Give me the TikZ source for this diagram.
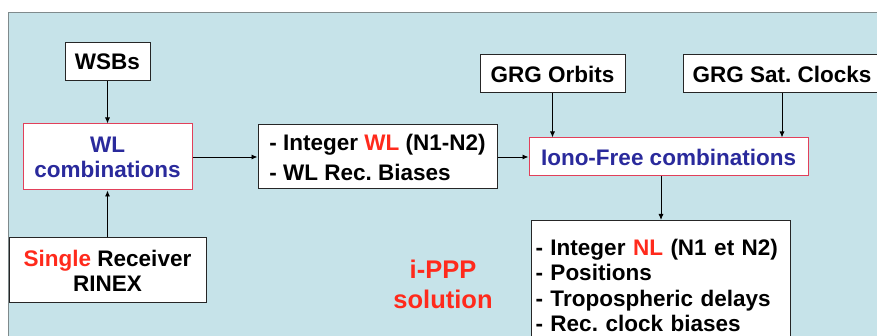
\documentclass[tikz,border=0pt]{standalone}
\usepackage{fontspec}
\setmainfont{Liberation Sans}
\usepackage{tikz}
\usepackage{xcolor}
\usetikzlibrary{arrows.meta,positioning}
\definecolor{Panel}{HTML}{C6E3E9}
\definecolor{Frame}{HTML}{7F8A8C}
\definecolor{Navy}{HTML}{2A2A9C}
\definecolor{Red}{HTML}{FF2A1C}
\definecolor{Rose}{HTML}{E2405A}
\frenchspacing

\begin{document}
\begin{tikzpicture}[x=1pt,y=1pt,
  box/.style={draw=black!85,line width=1pt,fill=white,inner sep=0pt,align=center,
    font=\fontsize{22.5}{25}\selectfont\bfseries},
  combo/.style={box,draw=Rose,text=Navy},
  arr/.style={-{Latex[length=6pt,width=5pt]},line width=0.9pt}]
  \useasboundingbox (0,0) rectangle (877,336);
  \fill[white] (0,0) rectangle (877,336);
  \fill[Panel] (8,-10) rectangle (890,323);
  \draw[Frame,line width=1pt] (8,-10) -- (8,323) -- (890,323);

  % left column
  \node[box,minimum width=85,minimum height=38] (wsb) at (107.5,274) {WSBs};
  \node[combo,minimum width=169,minimum height=66] (wl) at (107.5,179) {WL\\combinations};
  \node[box,minimum width=197,minimum height=65] (rinex) at (107.5,65.5)
    {\textcolor{Red}{Single} Receiver\\RINEX};

  % middle
  \node[box,minimum width=239,minimum height=64,align=left,
    font=\fontsize{22.5}{30}\selectfont\bfseries] (intwl) at (377.5,179)
    {- Integer \textcolor{Red}{WL} (N1-N2)\\- WL Rec. Biases};

  % right column
  \node[box,minimum width=145,minimum height=38] (orbits) at (552.5,262) {GRG Orbits};
  \node[box,minimum width=198,minimum height=38] (clocks) at (782,262) {GRG Sat. Clocks};
  \node[combo,minimum width=279,minimum height=38] (iono) at (668.5,179) {Iono-Free combinations};
  \node[box,anchor=north west,text width=251,inner xsep=4pt,inner ysep=10pt,align=left,
    minimum height=130,font=\fontsize{22.5}{25.5}\selectfont\bfseries] (res) at (531,116)
    {- Integer \textcolor{Red}{NL} (N1 et N2)\\- Positions\\- Tropospheric delays\\- Rec. clock biases};

  \node[text=Red,align=center,font=\fontsize{25.5}{30}\selectfont\bfseries] (ippp) at (443,52)
    {i-PPP\\solution};

  % connectors
  \draw[arr] (wsb) -- (wl);
  \draw[arr] (rinex) -- (wl);
  \draw[arr] (wl) -- (intwl);
  \draw[arr] (intwl) -- (iono);
  \draw[arr] (orbits) -- (orbits |- iono.north);
  \draw[arr] (clocks) -- (clocks |- iono.north);
  \draw[arr] (res.north |- iono.south) -- (res.north);
\end{tikzpicture}
\end{document}
